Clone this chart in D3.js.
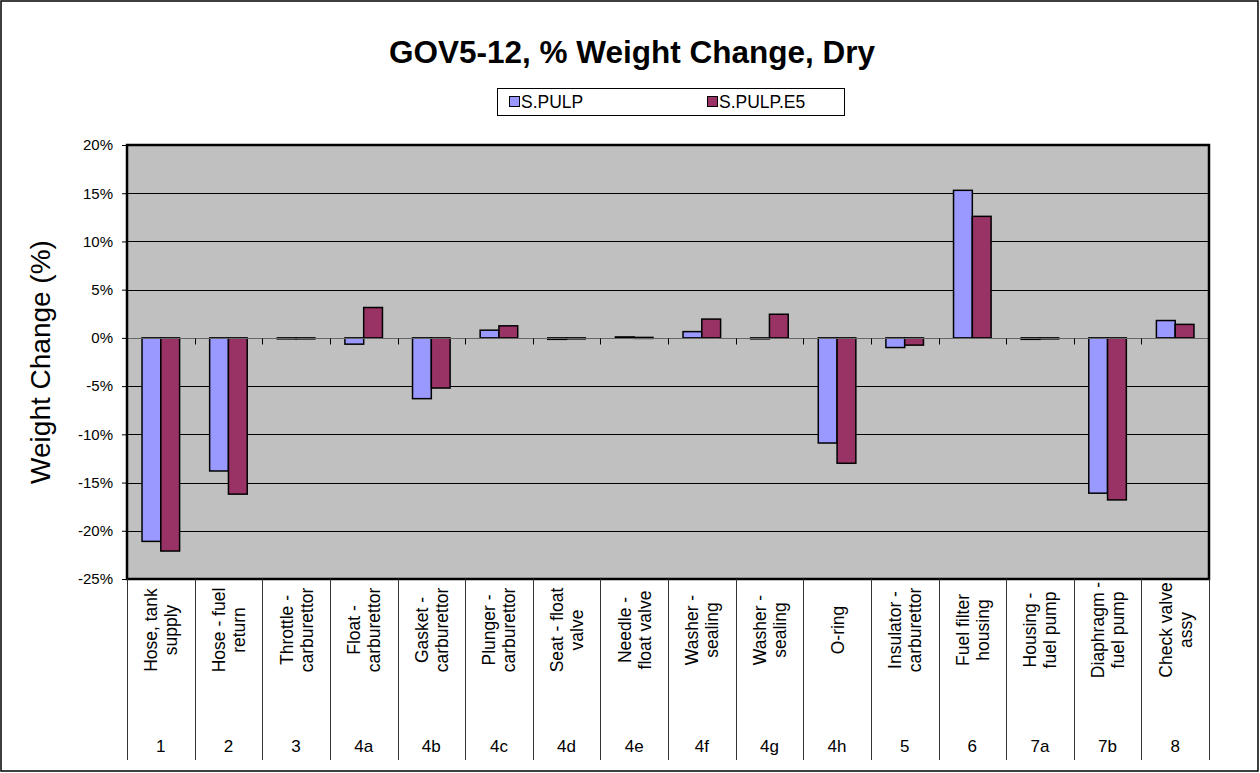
<!DOCTYPE html>
<html><head><meta charset="utf-8">
<script src="https://cdn.jsdelivr.net/npm/d3@7"></script>
<style>html,body{margin:0;padding:0;background:#fff;}svg{display:block;font-family:Arial,"Liberation Sans",sans-serif;}</style>
</head><body>
<svg id="c" width="1260" height="773"></svg>
<script>
const codes = ["1","2","3","4a","4b","4c","4d","4e","4f","4g","4h","5","6","7a","7b","8"];
const partNames = [["Hose, tank","supply"],["Hose - fuel","return"],["Throttle -","carburettor"],["Float -","carburettor"],["Gasket -","carburettor"],["Plunger -","carburettor"],["Seat - float","valve"],["Needle -","float valve"],["Washer -","sealing"],["Washer -","sealing"],["O-ring"],["Insulator -","carburettor"],["Fuel filter","housing"],["Housing -","fuel pump"],["Diaphragm -","fuel pump"],["Check valve","assy"]];
const seriesNames = ["S.PULP","S.PULP.E5"];
const sPulp = [-21.1,-13.8,-0.05,-0.65,-6.3,0.8,-0.15,0.1,0.65,0.0,-10.9,-1.0,15.3,-0.15,-16.1,1.8];
const sPulpE5 = [-22.1,-16.2,-0.05,3.15,-5.2,1.25,-0.1,0.05,1.95,2.45,-13.0,-0.75,12.6,-0.05,-16.8,1.4];
const yTicks = [20,15,10,5,0,-5,-10,-15,-20,-25];
const colors = ["#9999FF","#993366"];

const svg = d3.select("#c");
const W=1260,H=773;
const L=127,R=1209,T=145,B=579;

svg.append("rect").attr("x",1).attr("y",1).attr("width",W-3).attr("height",H-3).attr("fill","#fff").attr("stroke","#000").attr("stroke-width",1.5);

svg.append("text").attr("x",632).attr("y",63).attr("text-anchor","middle").attr("font-size",31.5).attr("font-weight","bold").text("GOV5-12, % Weight Change, Dry");

// legend
const lg = svg.append("g");
lg.append("rect").attr("x",497.5).attr("y",88.5).attr("width",347).attr("height",27).attr("fill","#fff").attr("stroke","#000");
const lx=[509,707];
seriesNames.forEach((s,i)=>{
  lg.append("rect").attr("x",lx[i]+0.5).attr("y",96.5).attr("width",10).attr("height",10).attr("fill",colors[i]).attr("stroke","#000");
  lg.append("text").attr("x",lx[i]+12).attr("y",108).attr("font-size",17.5).text(s);
});

const x = d3.scaleBand().domain(codes).range([L,R]).padding(0);
const xs = d3.scaleBand().domain(seriesNames).range([0,x.bandwidth()]).paddingInner(0).paddingOuter(0.8);
const y = d3.scaleLinear().domain([-25,20]).range([B,T]);

svg.append("rect").attr("x",L).attr("y",T).attr("width",R-L).attr("height",B-T).attr("fill","#C0C0C0");

// gridlines
svg.append("g").selectAll("line").data(yTicks.filter(d=>d!==0&&d!==20&&d!==-25)).join("line")
  .attr("x1",L).attr("x2",R).attr("y1",d=>Math.round(y(d))+0.5).attr("y2",d=>Math.round(y(d))+0.5).attr("stroke","#000").attr("stroke-width",1);

// y axis
const ya = svg.append("g").attr("transform",`translate(${L},0)`).call(d3.axisLeft(y).tickValues(yTicks).tickSize(5).tickPadding(9).tickFormat(d=>d+"%"));
ya.select(".domain").remove();
ya.selectAll("text").attr("font-size",15).attr("font-family","Arial, Liberation Sans, sans-serif").attr("fill","#000");
ya.selectAll("line").attr("stroke","#000");

svg.append("text").attr("transform",`translate(50,${(T+B)/2}) rotate(-90)`).attr("text-anchor","middle").attr("font-size",28).text("Weight Change (%)");

// bars
const data = codes.map((c,i)=>({c, vals:[sPulp[i],sPulpE5[i]]}));
const g = svg.append("g");
data.forEach(d=>{
  d.vals.forEach((v,j)=>{
    const x0 = x(d.c)+xs(seriesNames[j]);
    const y0 = y(Math.max(0,v)), y1 = y(Math.min(0,v));
    g.append("rect").attr("x",x0).attr("y",y0).attr("width",xs.bandwidth()).attr("height",Math.max(1,y1-y0))
      .attr("fill",colors[j]).attr("stroke","#000").attr("stroke-width",1.5);
  });
});

// zero axis
const z = Math.round(y(0))+0.5;
svg.append("line").attr("x1",L).attr("x2",R).attr("y1",z).attr("y2",z).attr("stroke","#666").attr("stroke-width",1.2);
svg.append("g").selectAll("line").data(codes.slice(1)).join("line")
  .attr("x1",d=>Math.round(x(d))+0.5).attr("x2",d=>Math.round(x(d))+0.5).attr("y1",z).attr("y2",z+6).attr("stroke","#000");

// plot border
svg.append("rect").attr("x",L).attr("y",T).attr("width",R-L).attr("height",B-T).attr("fill","none").attr("stroke","#000").attr("stroke-width",2.5);

// category separators
const bounds = codes.map(c=>x(c)).concat([R]);
svg.append("g").selectAll("line").data(bounds).join("line")
  .attr("x1",d=>Math.round(d)+0.5).attr("x2",d=>Math.round(d)+0.5).attr("y1",B).attr("y2",760).attr("stroke","#333").attr("stroke-width",1);

// category labels
const cl = svg.append("g");
data.forEach((d,i)=>{
  const cx = x(d.c)+x.bandwidth()/2;
  const lines = partNames[i];
  const n = lines.length;
  lines.forEach((t,k)=>{
    const off = (k-(n-1)/2)*20;
    cl.append("text").attr("transform",`translate(${cx+off+6.5},630) rotate(-90)`).attr("text-anchor","middle").attr("font-size",17.5).text(t);
  });
  cl.append("text").attr("x",cx).attr("y",752).attr("text-anchor","middle").attr("font-size",17).text(d.c);
});
</script>
</body></html>
